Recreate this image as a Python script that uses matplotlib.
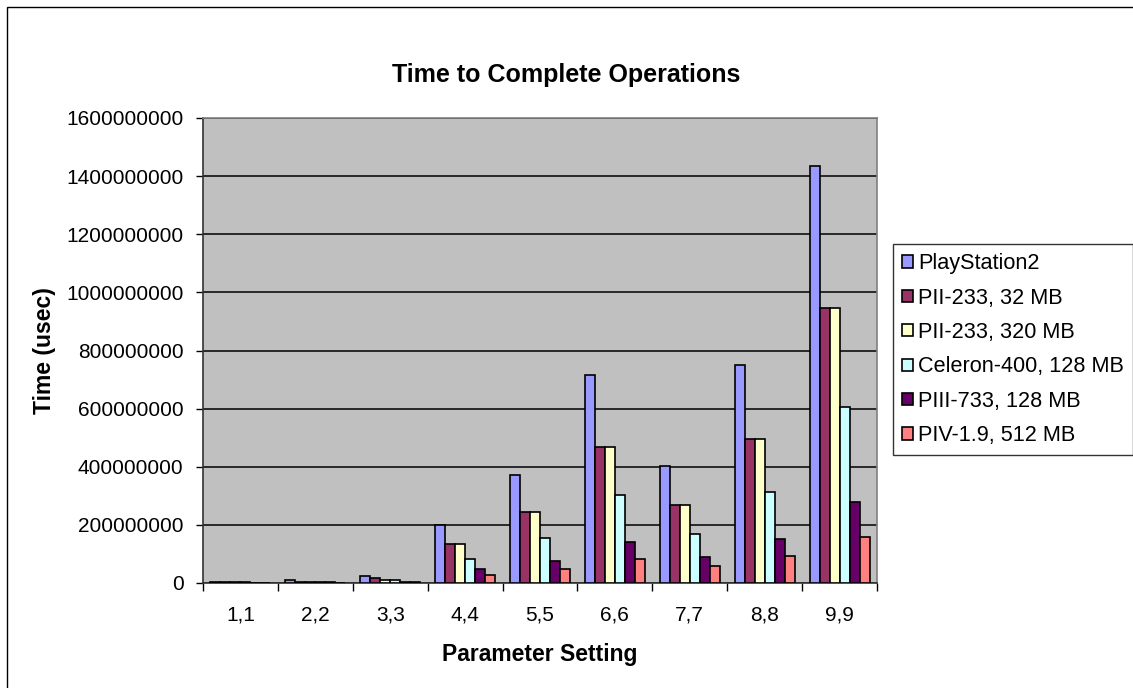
import matplotlib
matplotlib.use("Agg")
import matplotlib.pyplot as plt
import numpy as np
from matplotlib.patches import Rectangle

plt.rcParams['font.family'] = ['Liberation Sans', 'DejaVu Sans']

categories = ["1,1", "2,2", "3,3", "4,4", "5,5", "6,6", "7,7", "8,8", "9,9"]
series_names = ["PlayStation2", "PII-233, 32 MB", "PII-233, 320 MB",
                "Celeron-400, 128 MB", "PIII-733, 128 MB", "PIV-1.9, 512 MB"]
ps2 = [4e6, 10e6, 23e6, 198e6, 372e6, 715e6, 401e6, 750e6, 1435e6]
pii_32 = [3e6, 4e6, 16e6, 135e6, 244e6, 469e6, 269e6, 495e6, 947e6]
pii_320 = [3e6, 4e6, 10e6, 135e6, 244e6, 469e6, 269e6, 495e6, 947e6]
celeron = [3e6, 4e6, 10e6, 82e6, 156e6, 303e6, 169e6, 314e6, 605e6]
piii = [1e6, 2e6, 4e6, 48e6, 76e6, 141e6, 89e6, 151e6, 280e6]
piv = [1e6, 1e6, 4e6, 29e6, 48e6, 82e6, 58e6, 94e6, 160e6]
yticks = [0, 200000000, 400000000, 600000000, 800000000, 1000000000,
          1200000000, 1400000000, 1600000000]

series = [ps2, pii_32, pii_320, celeron, piii, piv]
colors = ["#9999FF", "#993366", "#FFFFCC", "#CCFFFF", "#660066", "#FF8080"]

fig = plt.figure(figsize=(11.33, 6.88), dpi=100)
ax = fig.add_axes([203/1133, 1 - 583/688, 674/1133, 465/688])
ax.set_facecolor("#C0C0C0")

n = len(series)
bw = 1 / 7.5
x = np.arange(len(categories))
for i, (vals, c, name) in enumerate(zip(series, colors, series_names)):
    offs = (i - (n - 1) / 2) * bw
    ax.bar(x + offs, vals, width=bw, color=c, edgecolor="black", linewidth=1.2,
           label=name, zorder=3)

ax.set_xlim(-0.5, len(categories) - 0.5)
ax.set_ylim(0, 1600000000)
ax.set_yticks(yticks)
ax.set_yticklabels([str(v) for v in yticks], fontsize=15)
ax.yaxis.grid(True, color="black", linewidth=1.1, zorder=1)
ax.set_axisbelow(True)

ax.set_xticks(x)
ax.set_xticklabels(categories, fontsize=15)
ax.tick_params(axis='x', which='major', length=0, pad=16)
ax.set_xticks(np.arange(-0.5, len(categories), 1), minor=True)
ax.tick_params(axis='x', which='minor', length=6, width=1.0, direction='out', color='black')
ax.tick_params(axis='y', length=5, width=1.0, direction='out', pad=9)

for s in ['top', 'right']:
    ax.spines[s].set_color("#808080")
    ax.spines[s].set_linewidth(1.2)
for s in ['left', 'bottom']:
    ax.spines[s].set_color("#333333")
    ax.spines[s].set_linewidth(1.2)

ax.set_xlabel("Parameter Setting", fontsize=16.5, fontweight='bold', va='center')
ax.xaxis.set_label_coords(0.5, -(655 - 583) / 465)
ax.set_ylabel("Time (usec)", fontsize=16.5, fontweight='bold', va='center')
ax.yaxis.set_label_coords(-(203 - 45) / 674, 0.5)
fig.text(566/1133, 1 - 75/688, "Time to Complete Operations", ha='center', va='center',
         fontsize=18, fontweight='bold')

leg = ax.legend(loc='upper left', bbox_to_anchor=(893/1133, 1 - 244/688),
                bbox_transform=fig.transFigure, fontsize=15.6, frameon=True,
                fancybox=False, edgecolor='black', handlelength=0.5, handleheight=0.5,
                handletextpad=0.25, labelspacing=0.62, borderpad=0.42, borderaxespad=0)
leg.get_frame().set_linewidth(1.0)

fig.patches.append(Rectangle((7/1133, -0.05), 1.2, 1.05 - 7/688, transform=fig.transFigure,
                             fill=False, edgecolor='black', linewidth=1.0))

fig.savefig("out.png", dpi=100)
